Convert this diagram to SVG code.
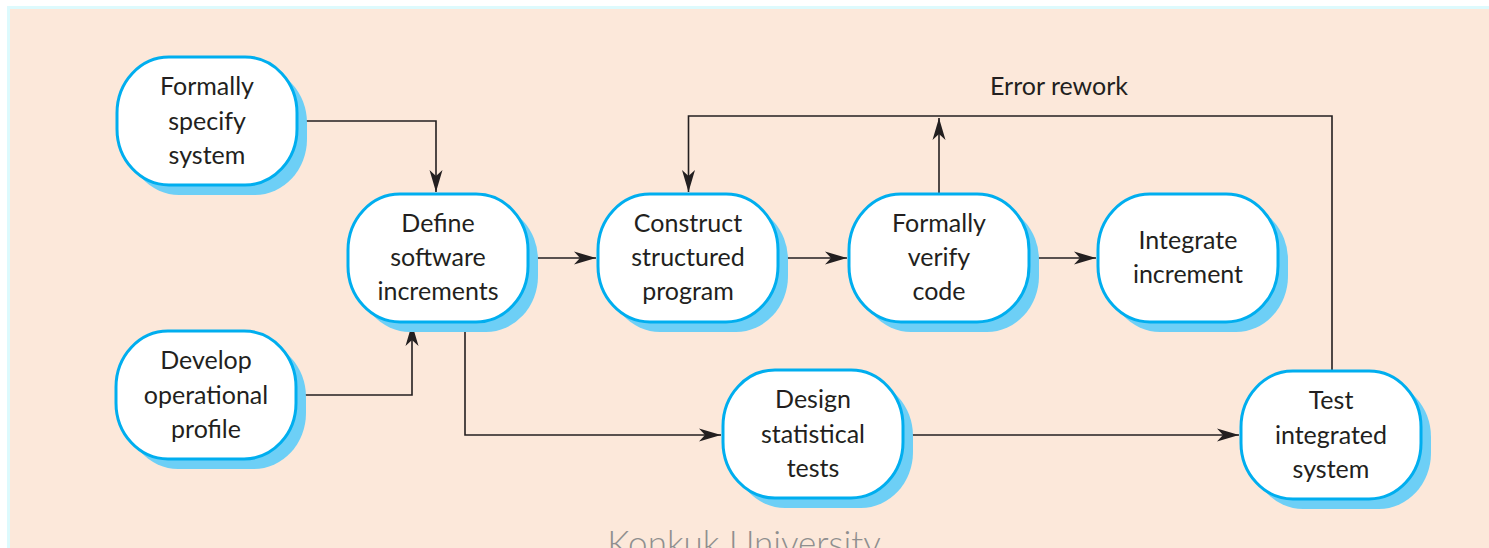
<svg xmlns="http://www.w3.org/2000/svg" width="1489" height="548" viewBox="0 0 1489 548">
  <style>
    .shadow { fill: #6dcff6; }
    .box { fill: #ffffff; stroke: #00aeef; stroke-width: 3; }
    .label { font-family: Lato, "Open Sans", sans-serif; font-size: 25px; fill: #231f20; text-anchor: middle; }
    .link { fill: none; stroke: #231f20; stroke-width: 1.6; }
    .arrow { marker-end: url(#head); }
  </style>
  <defs>
    <marker id="head" markerUnits="userSpaceOnUse" markerWidth="24" markerHeight="14" refX="22" refY="7" orient="auto">
      <path d="M0,0.5 L22,7 L0,13.5 L6,7 Z" fill="#231f20"/>
    </marker>
    <rect id="pill" x="0" y="0" width="180" height="128" rx="52" ry="56"/>
  </defs>

  <!-- page panel -->
  <rect x="0" y="0" width="1489" height="548" fill="#ffffff"/>
  <rect x="7" y="6" width="1482" height="542" fill="#ddfafd"/>
  <rect x="10" y="9" width="1479" height="539" fill="#fce8da"/>

  <!-- connectors -->
  <g id="connectors">
    <path class="link arrow" d="M296,121 H436 V192"/>
    <path class="link arrow" d="M296,395 H412 V324"/>
    <path class="link arrow" d="M465,322 V435 H721"/>
    <path class="link arrow" d="M528,258 H596"/>
    <path class="link arrow" d="M779,258 H847"/>
    <path class="link arrow" d="M1029,258 H1096"/>
    <path class="link arrow" d="M939,194 V118"/>
    <path class="link arrow" d="M1332,371 V116 H688.5 V192"/>
    <path class="link arrow" d="M904,435 H1239"/>
    <text class="label" x="1059" y="95">Error rework</text>
  </g>

  <g id="formally-specify">
    <use href="#pill" class="shadow" x="127" y="67"/>
    <use href="#pill" class="box" x="117" y="57"/>
    <text class="label" x="207" y="95">Formally</text>
    <text class="label" x="207" y="130">specify</text>
    <text class="label" x="207" y="164">system</text>
  </g>

  <g id="define-increments">
    <use href="#pill" class="shadow" x="358" y="204"/>
    <use href="#pill" class="box" x="348" y="194"/>
    <text class="label" x="438" y="232">Define</text>
    <text class="label" x="438" y="266">software</text>
    <text class="label" x="438" y="300">increments</text>
  </g>

  <g id="develop-profile">
    <use href="#pill" class="shadow" x="126" y="341"/>
    <use href="#pill" class="box" x="116" y="331"/>
    <text class="label" x="206" y="369">Develop</text>
    <text class="label" x="206" y="404">operational</text>
    <text class="label" x="206" y="438">profile</text>
  </g>

  <g id="construct-program">
    <use href="#pill" class="shadow" x="608" y="204"/>
    <use href="#pill" class="box" x="598" y="194"/>
    <text class="label" x="688" y="232">Construct</text>
    <text class="label" x="688" y="266">structured</text>
    <text class="label" x="688" y="300">program</text>
  </g>

  <g id="verify-code">
    <use href="#pill" class="shadow" x="859" y="204"/>
    <use href="#pill" class="box" x="849" y="194"/>
    <text class="label" x="939" y="232">Formally</text>
    <text class="label" x="939" y="266">verify</text>
    <text class="label" x="939" y="300">code</text>
  </g>

  <g id="integrate-increment">
    <use href="#pill" class="shadow" x="1108" y="204"/>
    <use href="#pill" class="box" x="1098" y="194"/>
    <text class="label" x="1188" y="249">Integrate</text>
    <text class="label" x="1188" y="283">increment</text>
  </g>

  <g id="design-tests">
    <use href="#pill" class="shadow" x="733" y="380"/>
    <use href="#pill" class="box" x="723" y="370"/>
    <text class="label" x="813" y="408">Design</text>
    <text class="label" x="813" y="443">statistical</text>
    <text class="label" x="813" y="477">tests</text>
  </g>

  <g id="test-system">
    <use href="#pill" class="shadow" x="1251" y="381"/>
    <use href="#pill" class="box" x="1241" y="371"/>
    <text class="label" x="1331" y="409">Test</text>
    <text class="label" x="1331" y="444">integrated</text>
    <text class="label" x="1331" y="478">system</text>
  </g>

  <!-- footer mark -->
  <text x="744" y="556" font-family="Lato, 'Open Sans', sans-serif" font-size="35" font-weight="300" fill="#8f8f8f" text-anchor="middle">Konkuk University</text>
</svg>
